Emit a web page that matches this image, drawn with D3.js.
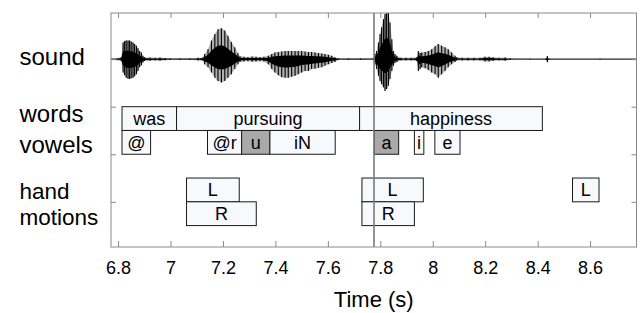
<!DOCTYPE html>
<html>
<head>
<meta charset="utf-8">
<script src="https://cdn.jsdelivr.net/npm/d3@7"></script>
<style>
  body { margin: 0; background: #fff; }
  svg text { font-family: "Liberation Sans", Arial, sans-serif; fill: #000; }
</style>
</head>
<body>
<div id="chart"></div>
<script>
// ---- data ----
var rowLabels = ["sound", "words", "vowels"];
var handLabel = ["hand", "motions"];
var xTicks = [6.8, 7, 7.2, 7.4, 7.6, 7.8, 8, 8.2, 8.4, 8.6];
var cursorTime = 7.776;

var wordLabels = ["was", "pursuing", "happiness"];
var wordStart  = [6.815, 7.023, 7.721];
var wordEnd    = [7.023, 7.721, 8.418];

var vowelLabels = ["@", "@r", "u", "iN", "a", "i", "e"];
var vowelStart  = [6.815, 7.141, 7.271, 7.379, 7.777, 7.930, 8.008];
var vowelEnd    = [6.924, 7.271, 7.379, 7.628, 7.870, 7.966, 8.104];
var vowelStressed = [false, false, true, false, true, false, false];

var leftStart = [7.061, 7.730, 8.533];
var leftEnd   = [7.262, 7.964, 8.634];
var rightStart = [7.061, 7.730];
var rightEnd   = [7.327, 7.930];

// waveform envelope (time, amplitude above / below the baseline, in row units)
var soundTime = [
  6.773, 6.812, 6.819, 6.825, 6.831, 6.838, 6.844, 6.850, 6.857, 6.863, 6.870, 6.876, 6.882, 6.889, 6.895, 6.901,
  6.922, 6.941, 6.960, 6.979, 6.998, 7.036, 7.074, 7.105, 7.116,
  7.124, 7.130, 7.143, 7.156, 7.169, 7.181, 7.194, 7.207, 7.219, 7.232, 7.245, 7.257, 7.265,
  7.280, 7.295, 7.311, 7.326, 7.341, 7.356,
  7.373, 7.386, 7.398, 7.411, 7.424, 7.437, 7.449, 7.462, 7.475, 7.487, 7.500, 7.513, 7.526, 7.538, 7.551,
  7.564, 7.577, 7.589, 7.602, 7.615, 7.627, 7.640, 7.678, 7.724,
  7.773, 7.780, 7.786, 7.793, 7.799, 7.805, 7.812, 7.818, 7.824, 7.831, 7.837, 7.844, 7.850, 7.856, 7.863,
  7.879, 7.898, 7.917,
  7.939, 7.945, 7.952, 7.958, 7.971, 7.983, 7.996, 8.009, 8.021, 8.034, 8.047, 8.059, 8.072, 8.085, 8.091,
  8.112, 8.134, 8.157, 8.180, 8.199, 8.215, 8.230, 8.253, 8.276, 8.295,
  8.371, 8.430, 8.437, 8.444, 8.638, 8.777
];
var soundUpper = [
  0.01, 0.04, 0.35, 0.38, 0.39, 0.39, 0.39, 0.37, 0.35, 0.32, 0.28, 0.23, 0.17, 0.14, 0.07, 0.04,
  0.035, 0.03, 0.035, 0.025, 0.02, 0.015, 0.015, 0.03, 0.025,
  0.04, 0.11, 0.21, 0.39, 0.53, 0.63, 0.65, 0.60, 0.49, 0.36, 0.25, 0.13, 0.06,
  0.05, 0.045, 0.055, 0.05, 0.045, 0.05,
  0.07, 0.11, 0.14, 0.15, 0.16, 0.17, 0.17, 0.17, 0.17, 0.17, 0.17, 0.16, 0.15, 0.15, 0.14,
  0.13, 0.12, 0.11, 0.09, 0.07, 0.04, 0.02, 0.015, 0.015,
  0.02, 0.11, 0.17, 0.35, 0.53, 0.67, 0.84, 0.95, 0.98, 0.98, 0.77, 0.42, 0.17, 0.11, 0.07,
  0.03, 0.03, 0.03,
  0.04, 0.17, 0.13, 0.14, 0.15, 0.17, 0.21, 0.27, 0.32, 0.28, 0.25, 0.21, 0.14, 0.07, 0.04,
  0.027, 0.027, 0.027, 0.027, 0.05, 0.05, 0.04, 0.03, 0.035, 0.02,
  0.01, 0.01, 0.065, 0.01, 0.01, 0.01
];
var soundLower = [
  0.01, 0.04, 0.28, 0.34, 0.39, 0.41, 0.42, 0.40, 0.39, 0.36, 0.32, 0.25, 0.17, 0.13, 0.07, 0.04,
  0.035, 0.03, 0.035, 0.025, 0.02, 0.015, 0.015, 0.03, 0.025,
  0.04, 0.11, 0.17, 0.28, 0.39, 0.46, 0.49, 0.46, 0.39, 0.32, 0.21, 0.11, 0.06,
  0.05, 0.045, 0.055, 0.05, 0.045, 0.05,
  0.11, 0.21, 0.28, 0.34, 0.38, 0.39, 0.39, 0.37, 0.35, 0.32, 0.28, 0.25, 0.25, 0.21, 0.20,
  0.18, 0.17, 0.14, 0.11, 0.08, 0.06, 0.02, 0.015, 0.015,
  0.02, 0.11, 0.21, 0.35, 0.46, 0.53, 0.59, 0.67, 0.63, 0.56, 0.42, 0.25, 0.14, 0.08, 0.06,
  0.03, 0.03, 0.03,
  0.04, 0.25, 0.21, 0.17, 0.19, 0.23, 0.28, 0.32, 0.39, 0.32, 0.25, 0.17, 0.11, 0.06, 0.03,
  0.027, 0.027, 0.027, 0.027, 0.05, 0.05, 0.04, 0.03, 0.035, 0.02,
  0.01, 0.01, 0.065, 0.01, 0.01, 0.01
];

function init(){
    var W = 643, H = 313;
    var left = 111, right = 636.5, top = 13, bottom = 247;

    var x = d3.scaleLinear().domain([6.773, 8.777]).range([left, right]);
    var y = d3.scaleLinear().domain([0.05, 4.97]).range([bottom, top]);

    var svg = d3.select("#chart").append("svg")
        .attr("width", W).attr("height", H);

    svg.append("defs").append("clipPath").attr("id", "plotclip")
        .append("rect")
        .attr("x", left).attr("y", top)
        .attr("width", right - left).attr("height", bottom - top);

    // row labels on the left
    var labelY = [65, 121.7, 153.3];
    svg.selectAll(".rowlabel")
        .data(rowLabels)
        .enter().append("text")
        .attr("class", "rowlabel")
        .attr("x", 19.5)
        .attr("y", function(d, i){ return labelY[i]; })
        .attr("font-size", "24px")
        .text(function(d){ return d; });

    // two-line label, slightly smaller so the lines don't collide
    svg.selectAll(".handlabel")
        .data(handLabel)
        .enter().append("text")
        .attr("class", "handlabel")
        .attr("x", 19.5)
        .attr("y", function(d, i){ return i === 0 ? 198.5 : 224.5; })
        .attr("font-size", "22.5px")
        .text(function(d){ return d; });

    var plot = svg.append("g").attr("clip-path", "url(#plotclip)");

    // sound waveform
    var sound = soundTime.map(function(t, i){
        return { t: t, up: soundUpper[i], dn: soundLower[i] };
    });
    var base = 4;

    plot.append("line")
        .attr("x1", left).attr("x2", right)
        .attr("y1", y(base)).attr("y2", y(base))
        .attr("stroke", "#111").attr("stroke-width", 1.2);

    plot.append("path")
        .datum(sound)
        .attr("fill", "#b0b0b0")
        .attr("d", d3.area()
            .x(function(d){ return x(d.t); })
            .y0(function(d){ return y(base - d.dn); })
            .y1(function(d){ return y(base + d.up); }));

    plot.selectAll(".spike")
        .data(sound)
        .enter().append("line")
        .attr("class", "spike")
        .attr("x1", function(d){ return x(d.t); })
        .attr("x2", function(d){ return x(d.t); })
        .attr("y1", function(d){ return y(base + d.up); })
        .attr("y2", function(d){ return y(base - d.dn); })
        .attr("stroke", "#000")
        .attr("stroke-width", 1.1);

    // dense core of the waveform
    plot.append("path")
        .datum(sound)
        .attr("fill", "#000")
        .attr("d", d3.area()
            .x(function(d){ return x(d.t); })
            .y0(function(d){ return y(base - d.dn * 0.45); })
            .y1(function(d){ return y(base + d.up * 0.45); }));

    // interval boxes
    function drawBoxes(cls, starts, ends, labels, y0, y1, fills){
        var g = plot.append("g").attr("class", cls);
        var rows = starts.map(function(s, i){
            return { s: s, e: ends[i], label: labels[i], fill: fills ? fills[i] : "#f7f9fd" };
        });
        g.selectAll("rect")
            .data(rows)
            .enter().append("rect")
            .attr("x", function(d){ return x(d.s); })
            .attr("y", y(y1))
            .attr("width", function(d){ return x(d.e) - x(d.s); })
            .attr("height", y(y0) - y(y1))
            .attr("fill", function(d){ return d.fill; })
            .attr("stroke", "#1a1a1a")
            .attr("stroke-width", 1);
        g.selectAll("text")
            .data(rows)
            .enter().append("text")
            .attr("x", function(d){ return (x(d.s) + x(d.e)) / 2; })
            .attr("y", (y(y0) + y(y1)) / 2)
            .attr("dy", "0.36em")
            .attr("text-anchor", "middle")
            .attr("font-size", "18px")
            .text(function(d){ return d.label; });
    }

    drawBoxes("words", wordStart, wordEnd, wordLabels, 2.5, 3);
    drawBoxes("vowels", vowelStart, vowelEnd, vowelLabels, 2, 2.5,
        vowelStressed.map(function(s){ return s ? "#a9a9a9" : "#f7f9fd"; }));
    drawBoxes("lefthand", leftStart, leftEnd, leftStart.map(function(){ return "L"; }), 1, 1.5);
    drawBoxes("righthand", rightStart, rightEnd, rightStart.map(function(){ return "R"; }), 0.5, 1);

    // cursor line
    svg.append("line")
        .attr("x1", x(cursorTime)).attr("x2", x(cursorTime))
        .attr("y1", top).attr("y2", bottom)
        .attr("stroke", "#7a7a7a").attr("stroke-width", 1.6);

    // frame and inward ticks
    var axisColor = "#8a8a8a";
    svg.append("rect")
        .attr("x", left).attr("y", top)
        .attr("width", right - left).attr("height", bottom - top)
        .attr("fill", "none").attr("stroke", axisColor).attr("stroke-width", 1);

    var xb = svg.append("g")
        .attr("transform", "translate(0," + bottom + ")")
        .call(d3.axisBottom(x).tickValues(xTicks).tickSizeInner(-6).tickSizeOuter(0).tickPadding(14)
            .tickFormat(d3.format("")));
    xb.select(".domain").remove();
    xb.selectAll(".tick line").attr("stroke", axisColor);
    xb.selectAll(".tick text")
        .attr("font-size", "18px")
        .attr("font-family", "'Liberation Sans', Arial, sans-serif")
        .attr("fill", "#000");

    var xt = svg.append("g")
        .attr("transform", "translate(0," + top + ")")
        .call(d3.axisTop(x).tickValues(xTicks).tickSizeInner(-5).tickSizeOuter(0).tickFormat(""));
    xt.select(".domain").remove();
    xt.selectAll(".tick line").attr("stroke", axisColor);

    var yl = svg.append("g")
        .attr("transform", "translate(" + left + ",0)")
        .call(d3.axisLeft(y).tickValues([1, 2, 3, 4]).tickSizeInner(-5).tickSizeOuter(0).tickFormat(""));
    yl.select(".domain").remove();
    yl.selectAll(".tick line").attr("stroke", axisColor);

    var yr = svg.append("g")
        .attr("transform", "translate(" + right + ",0)")
        .call(d3.axisRight(y).tickValues([1, 2, 3, 4]).tickSizeInner(-5).tickSizeOuter(0).tickFormat(""));
    yr.select(".domain").remove();
    yr.selectAll(".tick line").attr("stroke", axisColor);

    // axis title
    svg.append("text")
        .attr("x", (left + right) / 2)
        .attr("y", 306.5)
        .attr("text-anchor", "middle")
        .attr("font-size", "22px")
        .text("Time (s)");
}
window.onload = init;
</script>
</body>
</html>
